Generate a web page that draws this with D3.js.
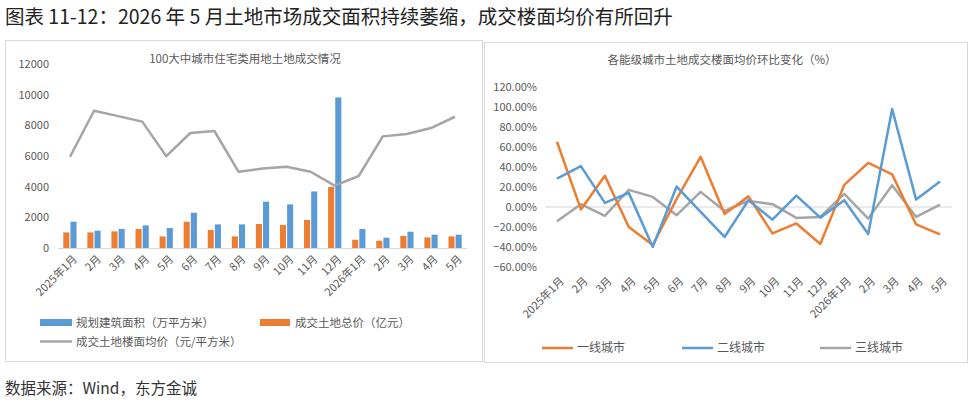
<!DOCTYPE html>
<html>
<head>
<meta charset="utf-8">
<script src="https://cdn.jsdelivr.net/npm/d3@7"></script>
<style>
  body { margin: 0; background: #fff; }
  svg { display: block; font-family: "Noto Sans CJK SC", "Noto Sans", sans-serif; }
</style>
</head>
<body>
<svg id="chart" width="975" height="403"></svg>
<script>
// ---------------- DATA ----------------
const months = ['2025年1月', '2月', '3月', '4月', '5月', '6月', '7月', '8月', '9月', '10月', '11月', '12月',
  '2026年1月', '2月', '3月', '4月', '5月'];
const monthKeys = months.map((m, i) => i + ':' + m); // unique keys for the band scale

// 100 cities land deals
const planArea = [1715, 1130, 1240, 1475, 1305, 2300, 1540, 1540, 3020, 2845, 3690, 9820, 1240, 672, 1063, 867, 867]; // 万平方米
const totalPrice = [1017, 1020, 1085, 1240, 757, 1715, 1175, 757, 1565, 1500, 1826, 3978, 540, 476, 782, 690, 757]; // 亿元
const avgPrice = [5950, 8950, 8600, 8240, 5990, 7500, 7630, 4975, 5180, 5300, 4975, 4065, 4695, 7280, 7434, 7825, 8560]; // 元/平方米
const leftTicks = [0, 2000, 4000, 6000, 8000, 10000, 12000];

// month-on-month change by city tier (%)
const tier1 = [65, -2.5, 31, -20, -38, 8, 50, -7, 10.5, -26.5, -16.5, -37, 22, 44, 32.5, -17.5, -27.5];
const tier2 = [28.3, 40.7, 4, 14, -40, 20.3, -5, -30, 6.7, -12.7, 11.3, -10.7, 6.7, -27, 97.7, 7.3, 25.3];
const tier3 = [-14.3, 2.7, -9, 17, 10, -8.3, 15, -4, 6, 2.7, -11, -10, 13, -11.7, 21.7, -10, 2.3];
const rightTicks = [-60, -40, -20, 0, 20, 40, 60, 80, 100, 120];

const orange = '#ed7d31', blue = '#5b9bd5', gray = '#a5a5a5';
const txt = '#595959';

const svg = d3.select('#chart');

// ---------------- PAGE TEXT ----------------
svg.append('text')
  .attr('x', 5).attr('y', 24)
  .attr('font-size', 19.5).attr('fill', '#222')
  .text('图表 11-12：2026 年 5 月土地市场成交面积持续萎缩，成交楼面均价有所回升');

svg.append('text')
  .attr('x', 5).attr('y', 394)
  .attr('font-size', 15.5).attr('fill', '#333')
  .text('数据来源：Wind，东方金诚');

// chart frames
svg.append('rect').attr('x', 5.5).attr('y', 40.5).attr('width', 477).attr('height', 321)
  .attr('fill', 'none').attr('stroke', '#d9d9d9');
svg.append('rect').attr('x', 484.5).attr('y', 42.5).attr('width', 483).attr('height', 320)
  .attr('fill', 'none').attr('stroke', '#d9d9d9');

// ---------------- LEFT CHART ----------------
const gL = svg.append('g');

gL.append('text')
  .attr('x', 245).attr('y', 63)
  .attr('text-anchor', 'middle').attr('font-size', 11.5).attr('fill', txt)
  .text('100大中城市住宅类用地土地成交情况');

const xL = d3.scaleBand().domain(monthKeys).range([58, 467]).paddingInner(0.45).paddingOuter(0.22);
const xStepL = d3.scaleBand().domain(monthKeys).range([58, 467]); // category centres
const xSub = d3.scaleBand().domain(['price', 'area']).range([0, xL.bandwidth()]).paddingInner(0.15);
const yL = d3.scaleLinear().domain([0, 12000]).range([248, 64]);

// y labels
gL.append('g')
  .selectAll('text')
  .data(leftTicks)
  .join('text')
  .attr('x', 49).attr('y', (d) => yL(d)).attr('dy', '0.35em')
  .attr('text-anchor', 'end').attr('font-size', 11).attr('fill', txt)
  .text((d) => d);

// baseline
gL.append('line')
  .attr('x1', 58).attr('x2', 467).attr('y1', yL(0) + 0.5).attr('y2', yL(0) + 0.5)
  .attr('stroke', '#d9d9d9');

// bars
const barData = monthKeys.map((k, i) => ({ key: k, price: totalPrice[i], area: planArea[i] }));
const groups = gL.append('g')
  .selectAll('g')
  .data(barData)
  .join('g')
  .attr('transform', (d) => `translate(${xL(d.key)},0)`);

groups.append('rect')
  .attr('x', xSub('price')).attr('width', xSub.bandwidth())
  .attr('y', (d) => yL(d.price)).attr('height', (d) => yL(0) - yL(d.price))
  .attr('fill', orange);

groups.append('rect')
  .attr('x', xSub('area')).attr('width', xSub.bandwidth())
  .attr('y', (d) => yL(d.area)).attr('height', (d) => yL(0) - yL(d.area))
  .attr('fill', blue);

// avg price line
const lineL = d3.line()
  .x((d, i) => xStepL(monthKeys[i]) + xStepL.bandwidth() / 2)
  .y((d) => yL(d));

gL.append('path')
  .datum(avgPrice)
  .attr('d', lineL)
  .attr('fill', 'none').attr('stroke', gray).attr('stroke-width', 2.5)
  .attr('stroke-linejoin', 'round');

// x labels
gL.append('g')
  .selectAll('text')
  .data(monthKeys)
  .join('text')
  .attr('transform', (d) => `translate(${xStepL(d) + xStepL.bandwidth() / 2 + 5},${257}) rotate(-45)`)
  .attr('text-anchor', 'end').attr('dy', '0.35em')
  .attr('font-size', 11).attr('fill', txt)
  .text((d) => d.split(':')[1]);

// legend
const legL = gL.append('g').attr('font-size', 11.5).attr('fill', txt);
legL.append('rect').attr('x', 40).attr('y', 319).attr('width', 32).attr('height', 7).attr('fill', blue);
legL.append('text').attr('x', 76).attr('y', 323).attr('dy', '0.35em').text('规划建筑面积（万平方米）');
legL.append('rect').attr('x', 260).attr('y', 319).attr('width', 30).attr('height', 7).attr('fill', orange);
legL.append('text').attr('x', 295).attr('y', 323).attr('dy', '0.35em').text('成交土地总价（亿元）');
legL.append('line').attr('x1', 40).attr('x2', 72).attr('y1', 341.5).attr('y2', 341.5)
  .attr('stroke', gray).attr('stroke-width', 2.5);
legL.append('text').attr('x', 76).attr('y', 341.5).attr('dy', '0.35em').text('成交土地楼面均价（元/平方米）');

// ---------------- RIGHT CHART ----------------
const gR = svg.append('g');

gR.append('text')
  .attr('x', 722).attr('y', 64)
  .attr('text-anchor', 'middle').attr('font-size', 11.5).attr('fill', txt)
  .text('各能级城市土地成交楼面均价环比变化（%）');

const xR = d3.scaleBand().domain(monthKeys).range([545, 952]);
const yR = d3.scaleLinear().domain([-60, 120]).range([267, 86.7]);

gR.append('g')
  .selectAll('text')
  .data(rightTicks)
  .join('text')
  .attr('x', 537).attr('y', (d) => yR(d)).attr('dy', '0.35em')
  .attr('text-anchor', 'end').attr('font-size', 11).attr('fill', txt)
  .text((d) => d3.format('.2f')(d) + '%');

gR.append('line')
  .attr('x1', 545).attr('x2', 952).attr('y1', yR(0)).attr('y2', yR(0))
  .attr('stroke', '#e3e3e3').attr('stroke-width', 1.5);

const lineR = d3.line()
  .x((d, i) => xR(monthKeys[i]) + xR.bandwidth() / 2)
  .y((d) => yR(d));

const series = [
  { name: '一线城市', values: tier1, color: orange },
  { name: '二线城市', values: tier2, color: blue },
  { name: '三线城市', values: tier3, color: gray },
];

// draw gray first, then orange, blue on top
[series[2], series[0], series[1]].forEach((s) => {
  gR.append('path')
    .datum(s.values)
    .attr('d', lineR)
    .attr('fill', 'none').attr('stroke', s.color).attr('stroke-width', 2.5)
    .attr('stroke-linejoin', 'round');
});

gR.append('g')
  .selectAll('text')
  .data(monthKeys)
  .join('text')
  .attr('transform', (d) => `translate(${xR(d) + xR.bandwidth() / 2 + 5},${279}) rotate(-45)`)
  .attr('text-anchor', 'end').attr('dy', '0.35em')
  .attr('font-size', 11).attr('fill', txt)
  .text((d) => d.split(':')[1]);

// legend
const legX = [542, 682, 820];
const legR = gR.append('g').attr('font-size', 12).attr('fill', txt);
series.forEach((s, i) => {
  legR.append('line')
    .attr('x1', legX[i]).attr('x2', legX[i] + 31).attr('y1', 348).attr('y2', 348)
    .attr('stroke', s.color).attr('stroke-width', 2.5);
  legR.append('text')
    .attr('x', legX[i] + 35).attr('y', 348).attr('dy', '0.35em')
    .text(s.name);
});
</script>
</body>
</html>
